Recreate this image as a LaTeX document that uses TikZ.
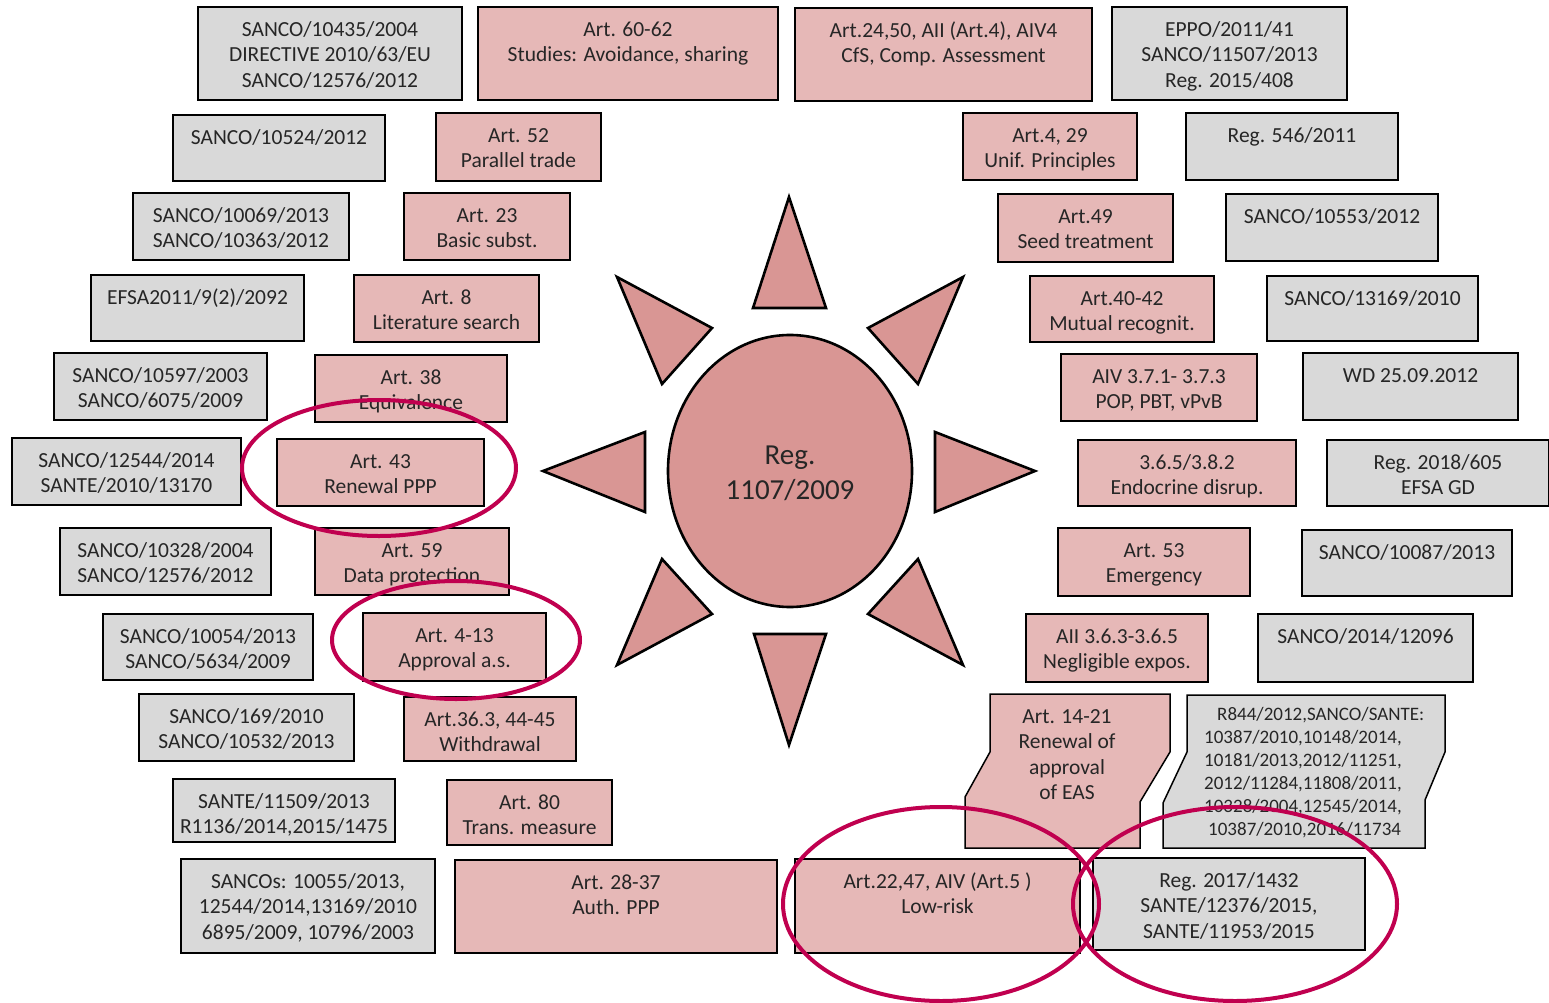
\documentclass[tikz,border=0pt]{standalone}
\usepackage{fontspec}
\setmainfont{Carlito}
\definecolor{pinkfill}{HTML}{E6B8B7}
\definecolor{grayfill}{HTML}{D9D9D9}
\definecolor{sunfill}{HTML}{D99694}
\definecolor{ring}{HTML}{C0004F}
\definecolor{ink}{HTML}{262626}
\tikzset{
  pinkbox/.style={fill=pinkfill,draw=black,line width=1.5pt},
  graybox/.style={fill=grayfill,draw=black,line width=1.5pt},
  txt/.style={font=\fontsize{21.5}{25.5}\selectfont,align=center,inner sep=0pt,anchor=north,text=ink},
  sunpart/.style={fill=sunfill,draw=black,line width=2.6pt,line join=miter},
  ringstyle/.style={draw=ring,line width=4pt},
}
\newcommand\bx[7]{%
  \draw[#2] (#3,#4) rectangle (#5,#6);
  \node[txt] (#1) at ({(#3+#5)/2},#4+11) {\strut #7};}
\begin{document}
\begin{tikzpicture}[x=1pt,y=-1pt]
\useasboundingbox (0,0) rectangle (1549,1003);
% ---------- left gray column
\bx{g1}{graybox}{198}{7}{462}{100}{SANCO/10435/2004\\DIRECTIVE 2010/63/EU\\SANCO/12576/2012}
\bx{g2}{graybox}{173}{115}{385}{181}{SANCO/10524/2012}
\bx{g3}{graybox}{133}{193}{349}{260}{SANCO/10069/2013\\SANCO/10363/2012}
\bx{g4}{graybox}{91}{275}{304}{341}{EFSA2011/9(2)/2092}
\bx{g5}{graybox}{54}{353}{267}{420}{SANCO/10597/2003\\SANCO/6075/2009}
\bx{g6}{graybox}{12}{438}{241}{505}{SANCO/12544/2014\\SANTE/2010/13170}
\bx{g7}{graybox}{60}{528}{271}{595}{SANCO/10328/2004\\SANCO/12576/2012}
\bx{g8}{graybox}{103}{614}{313}{680}{SANCO/10054/2013\\SANCO/5634/2009}
\bx{g9}{graybox}{139}{694}{354}{761}{SANCO/169/2010\\SANCO/10532/2013}
\bx{g10}{graybox}{173}{779}{395}{842}{SANTE/11509/2013\\R1136/2014,2015/1475}
\bx{g11}{graybox}{181}{859}{435}{953}{SANCOs: 10055/2013,\\12544/2014,13169/2010\\6895/2009, 10796/2003}
% ---------- left pink column
\bx{p1}{pinkbox}{478}{7}{778}{100}{Art. 60-62\\Studies: Avoidance, sharing}
\bx{p2}{pinkbox}{436}{113}{601}{181}{Art. 52\\Parallel trade}
\bx{p3}{pinkbox}{404}{193}{570}{260}{Art. 23\\Basic subst.}
\bx{p4}{pinkbox}{354}{275}{539}{342}{Art. 8\\Literature search}
\bx{p5}{pinkbox}{315}{355}{507}{422}{Art. 38\\Equivalence}
\bx{p6}{pinkbox}{277}{439}{484}{506}{Art. 43\\Renewal PPP}
\bx{p7}{pinkbox}{315}{528}{509}{595}{Art. 59\\Data protection}
\bx{p8}{pinkbox}{363}{613}{546}{681}{Art. 4-13\\Approval a.s.}
\bx{p9}{pinkbox}{404}{697}{576}{761}{Art.36.3, 44-45\\Withdrawal}
\bx{p10}{pinkbox}{447}{780}{612}{845}{Art. 80\\Trans. measure}
\bx{p11}{pinkbox}{455}{860}{777}{953}{Art. 28-37\\Auth. PPP}
% ---------- right pink column
\bx{q1}{pinkbox}{795}{8}{1092}{101}{Art.24,50, AII (Art.4), AIV4\\CfS, Comp. Assessment}
\bx{q2}{pinkbox}{963}{113}{1137}{180}{Art.4, 29\\Unif. Principles}
\bx{q3}{pinkbox}{998}{194}{1173}{262}{Art.49\\Seed treatment}
\bx{q4}{pinkbox}{1030}{276}{1214}{342}{Art.40-42\\Mutual recognit.}
\bx{q5}{pinkbox}{1061}{354}{1257}{421}{AIV 3.7.1- 3.7.3\\POP, PBT, vPvB}
\bx{q6}{pinkbox}{1078}{440}{1296}{506}{3.6.5/3.8.2\\Endocrine disrup.}
\bx{q7}{pinkbox}{1058}{528}{1250}{596}{Art. 53\\Emergency}
\bx{q8}{pinkbox}{1026}{614}{1208}{682}{AII 3.6.3-3.6.5\\Negligible expos.}
\bx{q11}{pinkbox}{795}{859}{1080}{953}{Art.22,47, AIV (Art.5 )\\Low-risk}
% irregular pink
\draw[pinkbox,line join=miter] (990,694) -- (1170,694) -- (1170,752) -- (1140,802) -- (1140,848)
  -- (965,848) -- (965,797) -- (990,752) -- cycle;
\node[txt] (q9) at (1067,705) {\strut Art. 14-21\\Renewal of\\approval\\of EAS};
% ---------- right gray column
\bx{r1}{graybox}{1112}{7}{1347}{100}{EPPO/2011/41\\SANCO/11507/2013\\Reg. 2015/408}
\bx{r2}{graybox}{1186}{113}{1398}{180}{Reg. 546/2011}
\bx{r3}{graybox}{1226}{194}{1438}{261}{SANCO/10553/2012}
\bx{r4}{graybox}{1267}{276}{1478}{341}{SANCO/13169/2010}
\bx{r5}{graybox}{1303}{353}{1518}{420}{WD 25.09.2012}
\bx{r6}{graybox}{1327}{440}{1549}{506}{Reg. 2018/605\\EFSA GD}
\bx{r7}{graybox}{1302}{530}{1512}{596}{SANCO/10087/2013}
\bx{r8}{graybox}{1258}{614}{1473}{682}{SANCO/2014/12096}
\bx{r12}{graybox}{1093}{858}{1365}{950}{Reg. 2017/1432\\SANTE/12376/2015,\\SANTE/11953/2015}
% irregular gray
\draw[graybox,line join=miter] (1187,695) -- (1445,695) -- (1445,752) -- (1425,800) -- (1425,848)
  -- (1163,848) -- (1163,803) -- (1187,752) -- cycle;
\node[txt,font=\fontsize{19}{23}\selectfont,align=left,anchor=north west] (r9) at (1204,704)
  {\strut\hspace*{13pt}R844/2012,SANCO/SANTE:\\10387/2010,10148/2014,\\10181/2013,2012/11251,\\2012/11284,11808/2011,\\10328/2004,12545/2014,\\\hspace*{4pt}10387/2010,2016/11734};
% ---------- sun
\draw[sunpart] (789,197) -- (826,308) -- (753,308) -- cycle;
\draw[sunpart] (789,745) -- (826,634) -- (754,634) -- cycle;
\draw[sunpart] (543,471) -- (645,432) -- (645,512) -- cycle;
\draw[sunpart] (1035,471) -- (935,432) -- (935,512) -- cycle;
\draw[sunpart] (617,277) -- (712,328) -- (662,384) -- cycle;
\draw[sunpart] (963,277) -- (868,328) -- (918,384) -- cycle;
\draw[sunpart] (662,559) -- (712,614) -- (617,665) -- cycle;
\draw[sunpart] (918,559) -- (868,614) -- (963,665) -- cycle;
\draw[sunpart] (790,471) ellipse [x radius=122, y radius=136];
\node[txt,anchor=center,font=\fontsize{29}{35}\selectfont] (sun) at (790,474.8) {\strut Reg.\\\strut 1107/2009};
% ---------- highlight rings
\draw[ringstyle] (379,468) ellipse [x radius=137, y radius=68];
\draw[ringstyle] (456,640) ellipse [x radius=124, y radius=59];
\draw[ringstyle] (941,904) ellipse [x radius=158, y radius=97];
\draw[ringstyle] (1235,904) ellipse [x radius=162, y radius=97];
\end{tikzpicture}
\end{document}
